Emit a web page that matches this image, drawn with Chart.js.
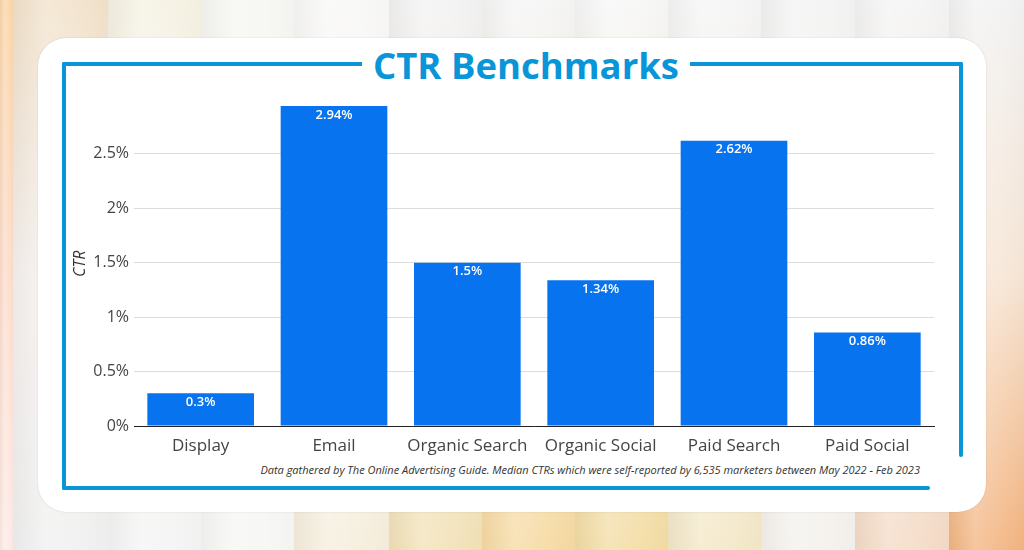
<!DOCTYPE html>
<html>
<head>
<meta charset="utf-8">
<script src="https://cdn.jsdelivr.net/npm/chart.js@4.4.1/dist/chart.umd.min.js"></script>
<style>
  html, body { margin: 0; padding: 0; }
  body { width: 1024px; height: 550px; position: relative; overflow: hidden; font-family: "Open Sans", sans-serif; background: #f4f4f4; }
  .col { position: absolute; top: 0; height: 550px; }
  .col::after { content: ""; position: absolute; inset: 0;
    background: linear-gradient(90deg, rgba(0,0,0,0.035) 0%, rgba(255,255,255,0.25) 35%, rgba(255,255,255,0.1) 70%, rgba(0,0,0,0.01) 100%); }
  #card { position: absolute; left: 38px; top: 38px; width: 948px; height: 474px; background: #fff; border-radius: 28px; box-shadow: 0 0 1.5px rgba(0,0,0,0.18); }
  .fl { position: absolute; background: #0A95D8; border-radius: 2px; }
  #title { position: absolute; left: 362px; top: 40px; width: 328px; height: 50px; background: #fff; color: #0A95D8; font-weight: 700; font-size: 36.5px; line-height: 50px; text-align: center; }
  #chartwrap { position: absolute; left: 66px; top: 87px; width: 892px; height: 374px; }
  #foot { position: absolute; right: 104px; top: 462px; font-style: italic; font-size: 11px; color: #333; white-space: nowrap; }
</style>
</head>
<body>
<div id="bg"></div>
<div id="card"></div>
<div class="fl" style="left:62px;top:62px;width:901px;height:4px;"></div>
<div class="fl" style="left:62px;top:62px;width:4px;height:428px;"></div>
<div class="fl" style="left:959px;top:62px;width:4px;height:395px;"></div>
<div class="fl" style="left:62px;top:486px;width:868px;height:4px;"></div>
<div id="title">CTR Benchmarks</div>
<div id="chartwrap"><canvas id="c"></canvas></div>
<div id="foot">Data gathered by The Online Advertising Guide. Median CTRs which were self-reported by 6,535 marketers between May 2022 - Feb 2023</div>
<script>
// ---- data ----
const categories = ["Display", "Email", "Organic Search", "Organic Social", "Paid Search", "Paid Social"];
const ctrValues = [0.3, 2.94, 1.5, 1.34, 2.62, 0.86];
const yTickValues = [0, 0.5, 1, 1.5, 2, 2.5];

// ---- background stripes ----
const bgCols = [
  [0, 13, "#FAD5A6", "#FCDCCB", "#FDEAE6"],
  [13, 108, "#F1E1C9", "#F6F1EE", "#F0F0F0"],
  [108, 201, "#F5F1E2", "#F6F5F2", "#F4F4F4"],
  [201, 294, "#F6F6F2", "#F6F6F5", "#F6F6F4"],
  [294, 389, "#F8F8F7", "#F7F4EC", "#F5EEDC"],
  [389, 482, "#F2F2F2", "#F3ECDA", "#F2E1B6"],
  [482, 575, "#F5F5F5", "#F5EAD3", "#F6D9A0"],
  [575, 668, "#F7F7F7", "#F5EAD2", "#F3DCA2"],
  [668, 761, "#F5F5F5", "#F4EFE2", "#F3E7C6"],
  [761, 855, "#F3F3F3", "#F4F3F1", "#F4F1EC"],
  [855, 949, "#F4F4F4", "#F5EAE0", "#F4DAC5"],
  [949, 1024, "#F2F2F2", "#F7E6D6", "#F3B37E"]
];
const bg = document.getElementById('bg');
bgCols.forEach(c => {
  const d = document.createElement('div');
  d.className = 'col';
  d.style.left = c[0] + 'px';
  d.style.width = (c[1] - c[0]) + 'px';
  d.style.background = `linear-gradient(180deg, ${c[2]} 0%, ${c[3]} 50%, ${c[4]} 100%)`;
  bg.appendChild(d);
});

// ---- bar value labels plugin ----
const barLabels = {
  id: 'barLabels',
  afterDatasetsDraw(chart) {
    const ctx = chart.ctx;
    const meta = chart.getDatasetMeta(0);
    ctx.save();
    ctx.fillStyle = '#ffffff';
    ctx.font = '600 13px "Open Sans"';
    ctx.textAlign = 'center';
    ctx.textBaseline = 'middle';
    meta.data.forEach((bar, i) => {
      ctx.fillText(ctrValues[i] + '%', bar.x, bar.y + 9);
    });
    ctx.restore();
  }
};

new Chart(document.getElementById('c'), {
  type: 'bar',
  data: {
    labels: categories,
    datasets: [{
      data: ctrValues,
      backgroundColor: '#0873EF',
      borderWidth: 0,
      barPercentage: 0.8,
      categoryPercentage: 1.0
    }]
  },
  options: {
    responsive: true,
    maintainAspectRatio: false,
    animation: false,
    layout: { padding: { left: 0, right: 24, top: 10, bottom: 0 } },
    plugins: {
      legend: { display: false },
      tooltip: { enabled: false }
    },
    scales: {
      x: {
        afterFit(scale) { scale.height = 35; },
        grid: { display: false },
        border: { display: true, color: '#222', width: 1 },
        ticks: { color: '#444', font: { family: 'Open Sans', size: 17 }, padding: 2 }
      },
      y: {
        min: 0,
        max: 2.98,
        afterFit(scale) { scale.width = 68; },
        afterBuildTicks(axis) { axis.ticks = yTickValues.map(v => ({ value: v })); },
        grid: { color: '#dcdcdc', lineWidth: 1, drawTicks: false },
        border: { display: false },
        ticks: {
          color: '#444',
          font: { family: 'Open Sans', size: 16 },
          padding: 5,
          callback: v => v + '%'
        },
        title: {
          display: true,
          text: 'CTR',
          color: '#333',
          font: { family: 'Open Sans', size: 16, style: 'italic' },
          padding: { top: 5, bottom: 3 }
        }
      }
    }
  },
  plugins: [barLabels]
});
</script>
</body>
</html>
